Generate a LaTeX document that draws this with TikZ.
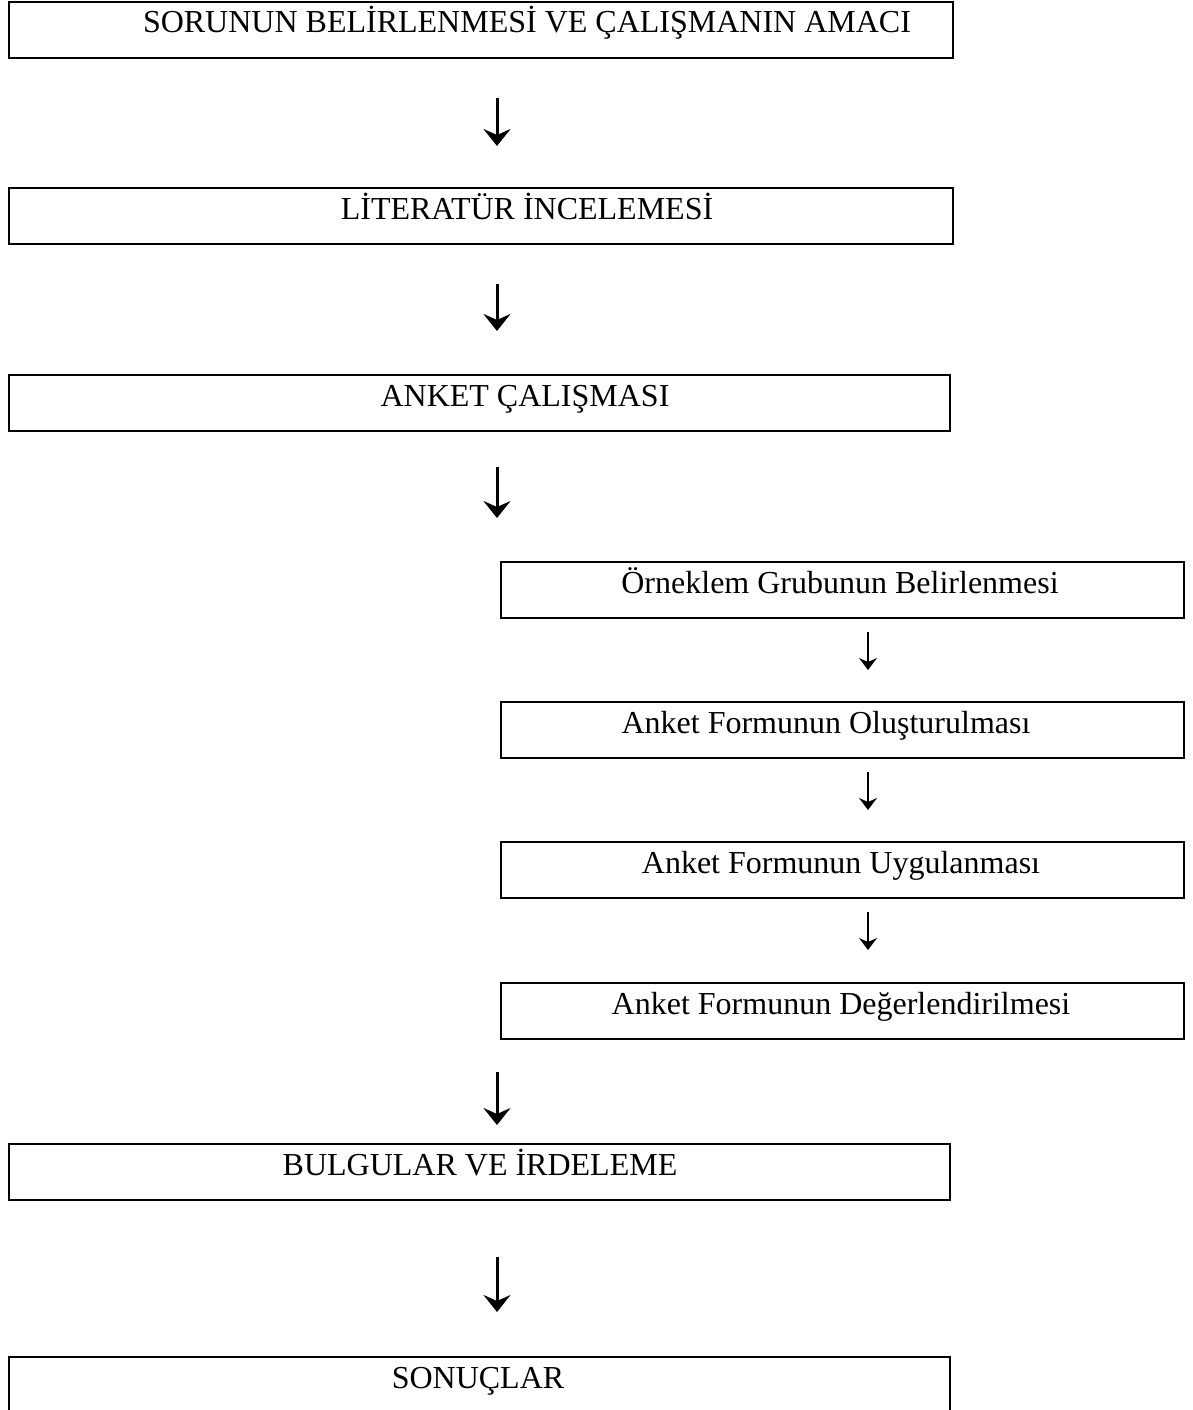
\documentclass[tikz,border=0pt]{standalone}
\usepackage{fontspec}
\setmainfont{Liberation Serif}
\usetikzlibrary{arrows.meta}
\begin{document}
\begin{tikzpicture}[x=1pt,y=-1pt,
  box/.style={draw=black, line width=2.2pt, rectangle, anchor=north west, minimum height=56pt, inner sep=0pt},
  bigbox/.style={box, minimum width=944pt},
  midbox/.style={box, minimum width=941pt},
  smallbox/.style={box, minimum width=683pt},
  lbl/.style={anchor=base, inner sep=0pt, font=\fontsize{32}{38}\selectfont},
  bigarr/.style={line width=3pt, -{Stealth[length=17pt, width=27pt, inset=6pt]}},
  smallarr/.style={line width=2pt, -{Stealth[length=12pt, width=18pt, inset=4pt]}}
]
\useasboundingbox (0,0) rectangle (1192,1410);
\clip (0,0) rectangle (1192,1410);
\fill[white] (0,0) rectangle (1192,1410);
% boxes
\node[bigbox] (b1) at (8,1) {};
\node[bigbox] (b2) at (8,187) {};
\node[midbox] (b3) at (8,374) {};
\node[smallbox] (b4) at (500,561) {};
\node[smallbox] (b5) at (500,701) {};
\node[smallbox] (b6) at (500,841) {};
\node[smallbox] (b7) at (500,982) {};
\node[midbox] (b8) at (8,1143) {};
\node[midbox, minimum height=80pt] (b9) at (8,1356) {};
% texts
\node[lbl] (t1) at (527,33) {SORUNUN BELİRLENMESİ VE ÇALIŞMANIN AMACI};
\node[lbl] (t2) at (527,219) {LİTERATÜR İNCELEMESİ};
\node[lbl] (t3) at (525,406) {ANKET ÇALIŞMASI};
\node[lbl] (t4) at (840,593) {Örneklem Grubunun Belirlenmesi};
\node[lbl] (t5) at (826,733) {Anket Formunun Oluşturulması};
\node[lbl] (t6) at (841,873) {Anket Formunun Uygulanması};
\node[lbl] (t7) at (841,1014) {Anket Formunun Değerlendirilmesi};
\node[lbl] (t8) at (480,1175) {BULGULAR VE İRDELEME};
\node[lbl] (t9) at (478,1388) {SONUÇLAR};
% arrow columns
\coordinate (ax) at (497,0);
\coordinate (sx) at (868,0);
% arrows
\draw[bigarr, shorten <=39pt, shorten >=41pt] (b1.south -| ax) -- (b2.north -| ax);
\draw[bigarr, shorten <=39pt, shorten >=43pt] (b2.south -| ax) -- (b3.north -| ax);
\draw[bigarr, shorten <=35pt, shorten >=43pt] (b3.south -| ax) -- (b4.north -| ax);
\draw[smallarr, shorten <=13pt, shorten >=31pt] (b4.south -| sx) -- (b5.north -| sx);
\draw[smallarr, shorten <=13pt, shorten >=31pt] (b5.south -| sx) -- (b6.north -| sx);
\draw[smallarr, shorten <=13pt, shorten >=32pt] (b6.south -| sx) -- (b7.north -| sx);
\draw[bigarr, shorten <=32pt, shorten >=18pt] (b7.south -| ax) -- (b8.north -| ax);
\draw[bigarr, shorten <=56pt, shorten >=44pt] (b8.south -| ax) -- (b9.north -| ax);
\end{tikzpicture}
\end{document}
